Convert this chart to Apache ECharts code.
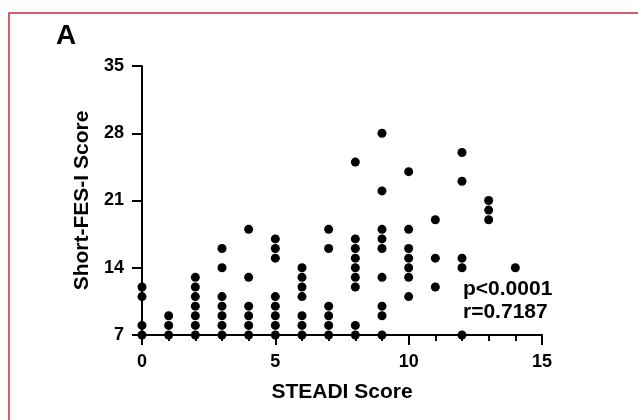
<!DOCTYPE html>
<html>
<head>
<meta charset="utf-8">
<script src="https://cdn.jsdelivr.net/npm/echarts@6/dist/echarts.min.js"></script>
<style>
  html, body { margin: 0; padding: 0; background: #fff; }
  #chart { width: 638px; height: 420px; }
</style>
</head>
<body>
<div id="chart"></div>
<script>
// STEADI score (x) and Short-FES-I score for each x column
const steadiScores = [0, 1, 2, 3, 4, 5, 6, 7, 8, 9, 10, 11, 12, 13, 14]
const fesByScore = [
  [12, 11, 8, 7],
  [9, 8, 7],
  [13, 12, 11, 10, 9, 8, 7],
  [16, 14, 11, 10, 9, 8, 7],
  [18, 13, 10, 9, 8, 7],
  [17, 16, 15, 11, 10, 9, 8, 7],
  [14, 13, 12, 11, 9, 8, 7],
  [18, 16, 10, 9, 8, 7],
  [25, 17, 16, 15, 14, 13, 12, 8, 7],
  [28, 22, 18, 17, 16, 13, 10, 9, 7],
  [24, 18, 16, 15, 14, 13, 11],
  [19, 15, 12],
  [26, 23, 15, 14, 7],
  [21, 20, 19],
  [14]
]
const yTicks = [7, 14, 21, 28, 35]
const xTicks = [0, 5, 10, 15]
const statLines = ['p<0.0001', 'r=0.7187']

const points = []
steadiScores.forEach((x, i) => {
  fesByScore[i].forEach(y => points.push([x, y]))
})

const chart = echarts.init(document.getElementById('chart'))
const font = 'Liberation Sans, Arial, sans-serif'

chart.setOption({
  animation: false,
  grid: { left: 142, right: 96, top: 66, bottom: 85 },
  xAxis: {
    type: 'value',
    min: xTicks[0],
    max: xTicks[xTicks.length - 1],
    interval: 5,
    name: 'STEADI Score',
    nameLocation: 'middle',
    nameGap: 47,
    nameTextStyle: { fontFamily: font, fontWeight: 'bold', fontSize: 21, color: '#000' },
    axisLine: { lineStyle: { color: '#000', width: 2 } },
    axisTick: { show: true, length: 10, lineStyle: { color: '#000', width: 2 } },
    minorTick: { show: true, splitNumber: 5, length: 6, lineStyle: { color: '#000', width: 2 } },
    axisLabel: { margin: 18, fontFamily: font, fontWeight: 'bold', fontSize: 18, color: '#000' },
    splitLine: { show: false }
  },
  yAxis: {
    type: 'value',
    min: yTicks[0],
    max: yTicks[yTicks.length - 1],
    interval: 7,
    name: 'Short-FES-I Score',
    nameLocation: 'middle',
    nameGap: 46,
    nameTextStyle: { fontFamily: font, fontWeight: 'bold', fontSize: 21, color: '#000' },
    axisLine: { show: true, lineStyle: { color: '#000', width: 2 } },
    axisTick: { show: true, length: 10, lineStyle: { color: '#000', width: 2 } },
    axisLabel: { margin: 18, fontFamily: font, fontWeight: 'bold', fontSize: 18, color: '#000' },
    splitLine: { show: false }
  },
  series: [{
    type: 'scatter',
    data: points,
    symbol: 'circle',
    symbolSize: 9,
    clip: false,
    itemStyle: { color: '#000', opacity: 1 }
  }],
  graphic: [
    {
      type: 'rect',
      shape: { x: 9, y: 13, width: 640, height: 420 },
      style: { fill: 'none', stroke: '#c4283e', lineWidth: 1.5 },
      silent: true
    },
    {
      type: 'text',
      left: 56, top: 22,
      style: { text: 'A', font: 'bold 28px ' + font, fill: '#000' }
    },
    {
      type: 'text',
      left: 463, top: 278,
      style: { text: statLines.join('\n'), font: 'bold 21px ' + font, lineHeight: 23, fill: '#000' }
    }
  ]
})
</script>
</body>
</html>
